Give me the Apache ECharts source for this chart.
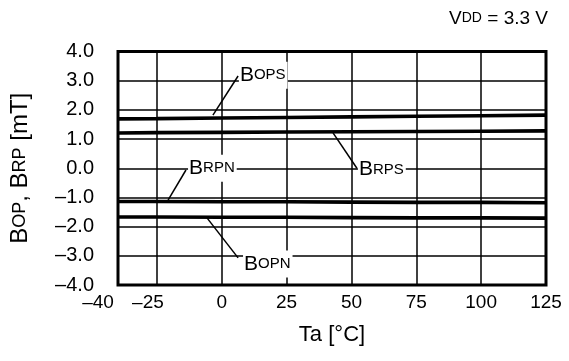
<!DOCTYPE html>
<html><head><meta charset="utf-8">
<script src="https://cdn.jsdelivr.net/npm/echarts@6/dist/echarts.min.js"></script>
<style>html,body{margin:0;padding:0;background:#fff}#c{width:569px;height:361px}</style>
</head><body><div id="c"></div>
<script>
// Temperatures (°C) where values were read
const temps = [-40, -25, 0, 25, 50, 75, 100, 125];
// Series values (mT)
const bops = [1.69, 1.70, 1.72, 1.74, 1.76, 1.78, 1.80, 1.82];
const brps = [1.21, 1.22, 1.23, 1.24, 1.25, 1.26, 1.27, 1.28];
const brpn = [-1.14, -1.14, -1.15, -1.15, -1.16, -1.17, -1.17, -1.18];
const bopn = [-1.67, -1.67, -1.68, -1.68, -1.69, -1.70, -1.70, -1.71];
// Tick labels
const xTicks = [-40, -25, 0, 25, 50, 75, 100, 125];
const xGrid = [-25, 0, 25, 50, 75, 100];
const yTicks = [-4, -3, -2, -1, 0, 1, 2, 3, 4];
// Annotation labels (text anchor & leader in data coords)
const annNames = [['B', 'OPS'], ['B', 'RPS'], ['B', 'RPN'], ['B', 'OPN']];
const annText = [[6.6, 3.19], [52.5, -0.04], [-13.0, 0.0], [8.2, -3.28]];
const annLeadFrom = [[6.3, 3.16], [52.1, 0.0], [-13.8, -0.06], [-5.7, -1.70]];
const annLeadTo = [[-3.4, 1.82], [42.9, 1.21], [-20.7, -1.09], [6.3, -3.07]];

const FONT = 'Liberation Sans, Arial, sans-serif';
const dash = v => (v < 0 ? '\u2013' : '') + Math.abs(v);
const pair = arr => temps.map((t, i) => [t, arr[i]]);
const lineSeries = (name, arr) => ({
  name, type: 'line', data: pair(arr), symbol: 'none', silent: true,
  lineStyle: { color: '#000', width: 3.6 }, z: 3
});

const chart = echarts.init(document.getElementById('c'), null, { renderer: 'canvas' });
chart.setOption({
  animation: false,
  textStyle: { fontFamily: FONT },
  grid: { left: 118, right: 23, top: 51.5, bottom: 76, show: true, borderColor: '#000', borderWidth: 3, backgroundColor: 'transparent', z: 5 },
  xAxis: {
    type: 'value', min: -40, max: 125, interval: 5,
    axisLine: { show: false }, axisTick: { show: false }, splitLine: { show: false },
    axisLabel: { color: '#000', fontSize: 19, fontFamily: FONT, margin: 8,
      formatter: v => {
        if (!xTicks.includes(v)) return '';
        if (v === -40) return '{l|' + dash(v) + '}';
        if (v === -25) return '{m|' + dash(v) + '}';
        return dash(v);
      },
      rich: {
        l: { fontSize: 19, fontFamily: FONT, color: '#000', padding: [0, 40, 0, 0] },
        m: { fontSize: 19, fontFamily: FONT, color: '#000', padding: [0, 18, 0, 0] }
      } },
    name: 'Ta [\u00B0C]', nameLocation: 'middle', nameGap: 39,
    nameTextStyle: { color: '#000', fontSize: 22, fontFamily: FONT }
  },
  yAxis: {
    type: 'value', min: -4, max: 4, interval: 1,
    axisLine: { show: false }, axisTick: { show: false },
    splitLine: { show: true, lineStyle: { color: '#000', width: 1.5 } },
    axisLabel: { color: '#000', fontSize: 20, fontFamily: FONT, margin: 24,
      formatter: v => (v < 0 ? '\u2013' : '') + Math.abs(v).toFixed(1) },
    name: '{b|B}{s|OP}{b|, B}{s|RP}{b| [mT]}', nameLocation: 'middle', nameGap: 86, nameRotate: 90,
    nameTextStyle: { color: '#000', fontFamily: FONT,
      rich: { b: { fontSize: 24, fontFamily: FONT, color: '#000' }, s: { fontSize: 18, fontFamily: FONT, color: '#000' } } }
  },
  series: [
    {
      type: 'line', data: [], silent: true,
      markLine: { silent: true, symbol: 'none', label: { show: false },
        lineStyle: { color: '#000', width: 1.5, type: 'solid' },
        data: xGrid.map(v => ({ xAxis: v })) }
    },
    lineSeries('BOPS', bops),
    lineSeries('BRPS', brps),
    lineSeries('BRPN', brpn),
    lineSeries('BOPN', bopn)
  ]
});

const graphics = [];
annNames.forEach((nm, i) => {
  const p = chart.convertToPixel({ gridIndex: 0 }, annText[i]);
  const a = chart.convertToPixel({ gridIndex: 0 }, annLeadFrom[i]);
  const b = chart.convertToPixel({ gridIndex: 0 }, annLeadTo[i]);
  graphics.push({
    type: 'text', x: p[0], y: p[1], z: 20,
    style: {
      text: '{b|' + nm[0] + '}{s|' + nm[1] + '}',
      align: 'left', verticalAlign: 'middle', backgroundColor: '#fff', padding: [3, 2, 3, 1],
      rich: { b: { fontSize: 21, fontFamily: FONT, fill: '#000' }, s: { fontSize: 15, fontFamily: FONT, fill: '#000' } }
    }
  });
  graphics.push({
    type: 'line', z: 21,
    shape: { x1: a[0], y1: a[1], x2: b[0], y2: b[1] },
    style: { stroke: '#000', lineWidth: 1.5 }
  });
});
graphics.push({
  type: 'text', right: 21, top: 9, z: 20,
  style: {
    text: '{b|V}{s|DD}{b| = 3.3 V}',
    rich: { b: { fontSize: 19, fontFamily: FONT, fill: '#000' }, s: { fontSize: 14, fontFamily: FONT, fill: '#000' } }
  }
});
chart.setOption({ graphic: graphics });
</script>
</body></html>
